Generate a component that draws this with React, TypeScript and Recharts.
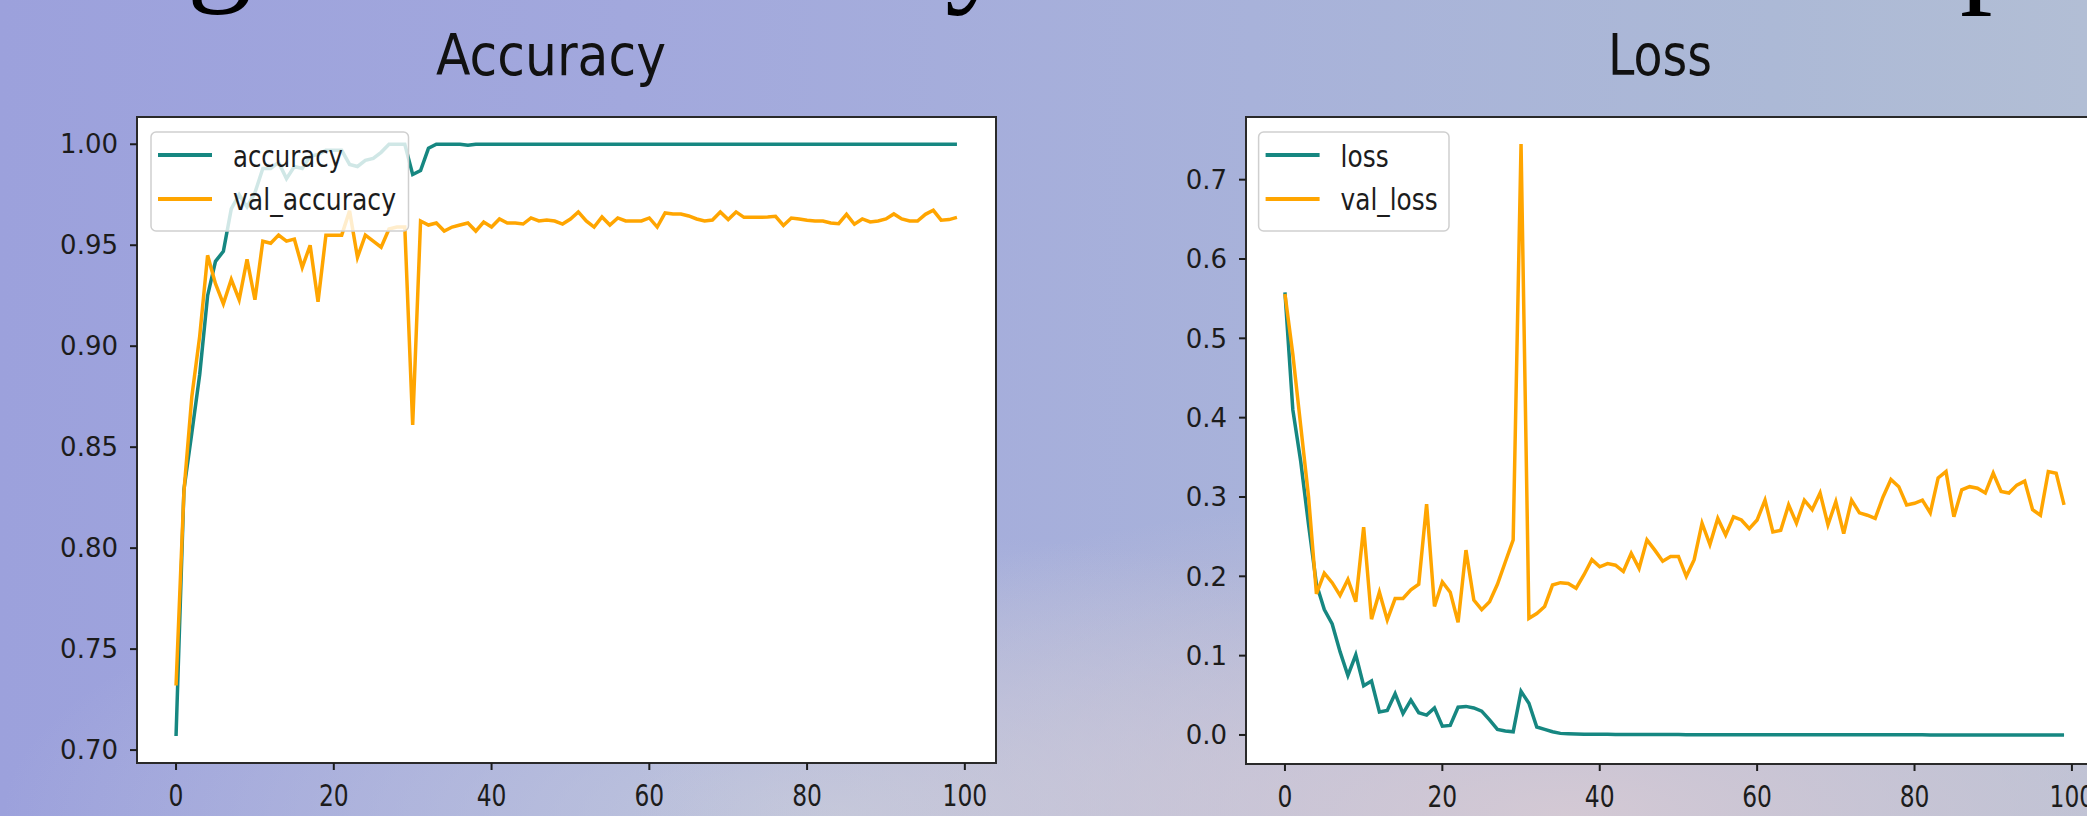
import React from "react";
import { LineChart, Line, XAxis, YAxis, CartesianGrid, ReferenceArea } from "recharts";

// values, one per epoch (0..99)
const accuracy = [
  0.707, 0.829, 0.857, 0.886, 0.925, 0.942, 0.947, 0.968, 0.975, 0.969,
  0.976, 0.988, 0.988, 0.991, 0.983, 0.989, 0.988, 0.994, 0.995, 0.997,
  0.997, 0.997, 0.99, 0.989, 0.992, 0.993, 0.996, 1.0, 1.0, 1.0,
  0.985, 0.987, 0.998, 1.0, 1.0, 1.0, 1.0, 0.9995, 1.0, 1.0,
  1.0, 1.0, 1.0, 1.0, 1.0, 1.0, 1.0, 1.0, 1.0, 1.0,
  1.0, 1.0, 1.0, 1.0, 1.0, 1.0, 1.0, 1.0, 1.0, 1.0,
  1.0, 1.0, 1.0, 1.0, 1.0, 1.0, 1.0, 1.0, 1.0, 1.0,
  1.0, 1.0, 1.0, 1.0, 1.0, 1.0, 1.0, 1.0, 1.0, 1.0,
  1.0, 1.0, 1.0, 1.0, 1.0, 1.0, 1.0, 1.0, 1.0, 1.0,
  1.0, 1.0, 1.0, 1.0, 1.0, 1.0, 1.0, 1.0, 1.0, 1.0,
];

const valAccuracy = [
  0.732, 0.828, 0.875, 0.905, 0.945, 0.931, 0.921, 0.933, 0.923, 0.943,
  0.923, 0.952, 0.951, 0.955, 0.952, 0.953, 0.939, 0.95, 0.922, 0.955,
  0.955, 0.955, 0.967, 0.944, 0.955, 0.952, 0.949, 0.958, 0.959, 0.959,
  0.861, 0.962, 0.96, 0.961, 0.957, 0.959, 0.96, 0.961, 0.957, 0.9615,
  0.959, 0.963, 0.961, 0.961, 0.9605, 0.9635, 0.962, 0.9625, 0.962, 0.9605,
  0.963, 0.9665, 0.962, 0.959, 0.964, 0.96, 0.9635, 0.962, 0.962, 0.962,
  0.9635, 0.959, 0.966, 0.9655, 0.9655, 0.9645, 0.963, 0.962, 0.9625, 0.9665,
  0.9627, 0.9665, 0.9638, 0.9638, 0.9638, 0.964, 0.9643, 0.9598, 0.9635, 0.963,
  0.9624, 0.962, 0.962, 0.961, 0.9607, 0.9653, 0.9604, 0.963, 0.9615, 0.962,
  0.963, 0.9655, 0.963, 0.962, 0.962, 0.9653, 0.9673, 0.9624, 0.9627, 0.9638,
];

const loss = [
  0.558, 0.41, 0.345, 0.265, 0.19, 0.158, 0.14, 0.105, 0.075, 0.101,
  0.062, 0.068, 0.029, 0.031, 0.052, 0.027, 0.044, 0.028, 0.025, 0.034,
  0.011, 0.012, 0.035, 0.036, 0.034, 0.03, 0.019, 0.007, 0.005, 0.004,
  0.055, 0.04, 0.01, 0.007, 0.004, 0.002, 0.0015, 0.0012, 0.001, 0.0009,
  0.0008, 0.0008, 0.0007, 0.0007, 0.0006, 0.0006, 0.0006, 0.0005, 0.0005, 0.0005,
  0.0005, 0.0004, 0.0004, 0.0004, 0.0004, 0.0004, 0.0003, 0.0003, 0.0003, 0.0003,
  0.0003, 0.0003, 0.0003, 0.0003, 0.0002, 0.0002, 0.0002, 0.0002, 0.0002, 0.0002,
  0.0002, 0.0002, 0.0002, 0.0002, 0.0002, 0.0002, 0.0002, 0.0002, 0.0002, 0.0002,
  0.0002, 0.0002, 0.0001, 0.0001, 0.0001, 0.0001, 0.0001, 0.0001, 0.0001, 0.0001,
  0.0001, 0.0001, 0.0001, 0.0001, 0.0001, 0.0001, 0.0001, 0.0001, 0.0001, 0.0001,
];

const valLoss = [
  0.556, 0.48, 0.39, 0.3, 0.178, 0.204, 0.192, 0.176, 0.196, 0.168,
  0.262, 0.146, 0.18, 0.145, 0.172, 0.172, 0.183, 0.19, 0.291, 0.162,
  0.193, 0.18, 0.142, 0.233, 0.17, 0.158, 0.168, 0.19, 0.218, 0.246,
  0.745, 0.147, 0.153, 0.162, 0.189, 0.192, 0.191, 0.185, 0.202, 0.221,
  0.212, 0.216, 0.214, 0.206, 0.229, 0.21, 0.246, 0.233, 0.219, 0.225,
  0.225, 0.2, 0.221, 0.267, 0.24, 0.273, 0.252, 0.275, 0.271, 0.26,
  0.271, 0.296, 0.256, 0.258, 0.29, 0.267, 0.296, 0.284, 0.305, 0.265,
  0.294, 0.254, 0.296, 0.28, 0.277, 0.273, 0.3, 0.322, 0.313, 0.29,
  0.292, 0.296, 0.28, 0.324, 0.332, 0.275, 0.309, 0.313, 0.311, 0.305,
  0.33, 0.307, 0.305, 0.315, 0.32, 0.284, 0.277, 0.332, 0.33, 0.29,
];

const epochTicks = [0, 20, 40, 60, 80, 100];
const accTicks = [0.7, 0.75, 0.8, 0.85, 0.9, 0.95, 1.0];
const lossTicks = [0, 0.1, 0.2, 0.3, 0.4, 0.5, 0.6, 0.7];

const accData = accuracy.map((v, i) => ({ epoch: i, accuracy: v, val_accuracy: valAccuracy[i] }));
const lossData = loss.map((v, i) => ({ epoch: i, loss: v, val_loss: valLoss[i] }));

const TEAL = "#168781";
const ORANGE = "#ffa500";
const INK = "#1c1c1c";
const X_DOMAIN: [number, number] = [-4.95, 103.95];
const ACC_DOMAIN: [number, number] = [0.6936, 1.0135];
const LOSS_DOMAIN: [number, number] = [-0.0366, 0.779];

function XTick({ x, y, payload }: any) {
  const label = String(payload.value);
  return (
    <text
      x={x}
      y={y}
      dy="0.71em"
      textAnchor="middle"
      fontFamily="DejaVu Sans"
      fontSize={30}
      fill={INK}
      textLength={label.length * 0.636 * 30 * 0.78}
      lengthAdjust="spacingAndGlyphs"
    >
      {label}
    </text>
  );
}

function makeYTick(digits: number) {
  return ({ x, y, payload }: any) => (
    <text x={x} y={y} dy="0.355em" textAnchor="end" fontFamily="DejaVu Sans" fontSize={26} fill={INK}>
      {Number(payload.value).toFixed(digits)}
    </text>
  );
}

function Panel({ data, keys, yDomain, yTicks, digits, width, yWidth, bottom }: any) {
  return (
    <LineChart width={width} height={816} data={data} margin={{ top: 117, right: 47, bottom, left: 0 }}>
      <CartesianGrid horizontal={false} vertical={false} fill="#ffffff" stroke="none" />
      <XAxis
        dataKey="epoch"
        type="number"
        domain={X_DOMAIN}
        ticks={epochTicks}
        height={50}
        axisLine={false}
        tickSize={7}
        tickMargin={15}
        tickLine={{ stroke: INK, strokeWidth: 2 }}
        tick={<XTick />}
      />
      <YAxis
        type="number"
        domain={yDomain}
        ticks={yTicks}
        width={yWidth}
        axisLine={false}
        tickSize={7}
        tickMargin={12}
        tickLine={{ stroke: INK, strokeWidth: 2 }}
        tick={makeYTick(digits)}
      />
      <Line type="linear" dataKey={keys[0]} stroke={TEAL} strokeWidth={3.5} dot={false} isAnimationActive={false} />
      <Line type="linear" dataKey={keys[1]} stroke={ORANGE} strokeWidth={3.5} dot={false} isAnimationActive={false} />
      <ReferenceArea
        x1={X_DOMAIN[0]}
        x2={X_DOMAIN[1]}
        y1={yDomain[0]}
        y2={yDomain[1]}
        ifOverflow="visible"
        fill="none"
        fillOpacity={0}
        stroke="#2a2a2a"
        strokeWidth={2}
      />
    </LineChart>
  );
}

function LegendBox({ x, w, names, lens }: any) {
  return (
    <g>
      <rect x={x} y={132} width={w} height={99} rx={5} fill="#ffffff" fillOpacity={0.8} stroke="#cfcfcf" strokeWidth={1.5} />
      <line x1={x + 7} x2={x + 61} y1={155} y2={155} stroke={TEAL} strokeWidth={4} />
      <line x1={x + 7} x2={x + 61} y1={199} y2={199} stroke={ORANGE} strokeWidth={4} />
      <text x={x + 82} y={167} fontFamily="DejaVu Sans" fontSize={30} fill={INK} textLength={lens[0]} lengthAdjust="spacingAndGlyphs">
        {names[0]}
      </text>
      <text x={x + 82} y={210} fontFamily="DejaVu Sans" fontSize={30} fill={INK} textLength={lens[1]} lengthAdjust="spacingAndGlyphs">
        {names[1]}
      </text>
    </g>
  );
}

export default function App() {
  return (
    <div
      style={{
        position: "absolute",
        left: 0,
        top: 0,
        width: 2087,
        height: 816,
        overflow: "hidden",
        background:
          "radial-gradient(ellipse 45% 40% at 75% 100%, rgba(214,202,212,0.95) 0%, rgba(214,202,212,0) 100%)," +
          "radial-gradient(ellipse 40% 35% at 40% 100%, rgba(200,206,220,0.8) 0%, rgba(200,206,220,0) 100%)," +
          "linear-gradient(90deg, #9ca1dc 0%, #a2a8dd 30%, #a8b2da 60%, #acb9d6 85%, #b2bed5 100%)",
      }}
    >
      <div style={{ position: "absolute", left: 0, top: 0 }}>
        <Panel
          data={accData}
          keys={["accuracy", "val_accuracy"]}
          yDomain={ACC_DOMAIN}
          yTicks={accTicks}
          digits={2}
          width={1043}
          yWidth={137}
          bottom={3}
        />
      </div>
      <div style={{ position: "absolute", left: 1100, top: 0 }}>
        <Panel
          data={lossData}
          keys={["loss", "val_loss"]}
          yDomain={LOSS_DOMAIN}
          yTicks={lossTicks}
          digits={1}
          width={1050}
          yWidth={146}
          bottom={2}
        />
      </div>
      <svg width={2087} height={816} style={{ position: "absolute", left: 0, top: 0, pointerEvents: "none" }}>
        <g fontFamily="Liberation Serif" fontSize={130} fill="#000">
          <text x={187} y={-13}>g</text>
          <text x={945} y={-12}>y</text>
          <text x={1960} y={-12}>p</text>
        </g>
        <text x={551} y={75} textAnchor="middle" fontFamily="DejaVu Sans" fontSize={57} fill="#111" textLength={230} lengthAdjust="spacingAndGlyphs">
          Accuracy
        </text>
        <text x={1660} y={75} textAnchor="middle" fontFamily="DejaVu Sans" fontSize={57} fill="#111" textLength={104} lengthAdjust="spacingAndGlyphs">
          Loss
        </text>
        <LegendBox x={151} w={257.5} names={["accuracy", "val_accuracy"]} lens={[110, 163]} />
        <LegendBox x={1258.6} w={190.4} names={["loss", "val_loss"]} lens={[48, 97]} />
      </svg>
    </div>
  );
}
